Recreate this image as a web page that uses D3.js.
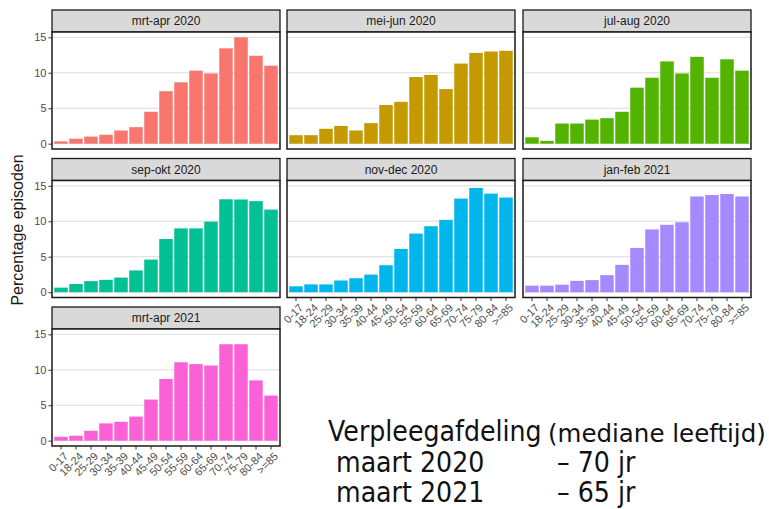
<!DOCTYPE html>
<html><head><meta charset="utf-8">
<script src="https://cdn.jsdelivr.net/npm/d3@7"></script>
<style>
html,body{margin:0;padding:0;background:#fff;}
svg{display:block;}
</style></head>
<body>
<svg id="chart" width="769" height="509"></svg>
<script>
const categories = ["0-17","18-24","25-29","30-34","35-39","40-44","45-49","50-54","55-59","60-64","65-69","70-74","75-79","80-84",">=85"];
const periods = ["mrt-apr 2020","mei-jun 2020","jul-aug 2020","sep-okt 2020","nov-dec 2020","jan-feb 2021","mrt-apr 2021"];
const mrtApr2020 = [0.33,0.7,1.0,1.26,1.86,2.33,4.5,7.4,8.66,10.3,9.9,13.45,15.0,12.4,11.0];
const meiJun2020 = [1.2,1.2,2.1,2.5,1.86,2.9,5.45,5.9,9.4,9.7,7.7,11.3,12.8,13.0,13.1];
const julAug2020 = [0.9,0.4,2.84,2.84,3.4,3.6,4.5,7.9,9.3,11.6,9.9,12.25,9.3,11.9,10.3];
const sepOkt2020 = [0.64,1.15,1.56,1.74,2.06,3.07,4.6,7.5,9.0,9.0,9.95,13.1,13.07,12.84,11.65];
const novDec2020 = [0.83,1.1,1.1,1.65,1.97,2.48,3.8,6.1,8.26,9.3,10.2,13.2,14.7,13.9,13.35];
const janFeb2021 = [0.92,0.92,1.06,1.6,1.7,2.4,3.85,6.24,8.85,9.5,9.86,13.5,13.7,13.85,13.5];
const mrtApr2021 = [0.55,0.7,1.4,2.44,2.67,3.4,5.8,8.7,11.06,10.8,10.6,13.6,13.6,8.5,6.36];
const seriesValues = [mrtApr2020, meiJun2020, julAug2020, sepOkt2020, novDec2020, janFeb2021, mrtApr2021];
const colors = ["#F8766D","#C49A00","#53B400","#00C094","#00B6EB","#A58AFF","#FB61D7"];
const yTicks = [0,5,10,15];
const yTitle = "Percentage episoden";
const noteLines = [["Verpleegafdeling","(mediane leeftijd)"],["maart 2020","\u2013 70 jr"],["maart 2021","\u2013 65 jr"]];

const svg = d3.select("#chart");
const colX = [52, 287, 523];
const rowY = [10, 158.5, 307];
const pw = 228, stripH = 22, ph = 117;
const ncol = 3;

const x = d3.scaleBand().domain(categories).range([0, pw]).paddingInner(0.1).paddingOuter(0.15);
const y = d3.scaleLinear().domain([-0.75, 15.75]).range([ph, 0]);

const font = "'Liberation Sans', Arial, Helvetica, sans-serif";

periods.forEach((p, i) => {
  const r = Math.floor(i / ncol), c = i % ncol;
  const g = svg.append("g").attr("transform", `translate(${colX[c]},${rowY[r]})`);
  g.append("rect").attr("x",0).attr("y",0).attr("width",pw).attr("height",stripH)
    .attr("fill","#d9d9d9").attr("stroke","#1a1a1a").attr("stroke-width",1.3);
  g.append("text").attr("x",pw/2).attr("y",stripH/2+4.3).attr("text-anchor","middle")
    .attr("font-family",font).attr("font-size",12).attr("fill","#1a1a1a").text(p);
  const pg = g.append("g").attr("transform",`translate(0,${stripH})`);
  pg.append("rect").attr("width",pw).attr("height",ph).attr("fill","#fff");
  pg.selectAll("line.grid").data(yTicks).join("line")
    .attr("x1",0).attr("x2",pw).attr("y1",d=>y(d)).attr("y2",d=>y(d))
    .attr("stroke","#dcdcdc").attr("stroke-width",1);
  pg.selectAll("rect.bar").data(seriesValues[i]).join("rect").attr("class","bar")
    .attr("x",(d,k)=>x(categories[k])).attr("width",x.bandwidth())
    .attr("y",d=>y(d)).attr("height",d=>y(0)-y(d)).attr("fill",colors[i]);
  pg.append("rect").attr("width",pw).attr("height",ph).attr("fill","none")
    .attr("stroke","#1a1a1a").attr("stroke-width",1.5);
  if (c === 0) {
    const ya = pg.append("g").call(d3.axisLeft(y).tickValues(yTicks).tickSize(3.5).tickPadding(2));
    ya.select(".domain").remove();
    ya.selectAll("line").attr("stroke","#333");
    ya.selectAll("text").attr("font-family",font).attr("font-size",11).attr("fill","#4d4d4d");
  }
  const isBottom = (i + ncol >= periods.length);
  if (isBottom) {
    const xa = pg.append("g").attr("transform",`translate(0,${ph})`)
      .call(d3.axisBottom(x).tickSize(3.5).tickPadding(2));
    xa.select(".domain").remove();
    xa.selectAll("line").attr("stroke","#333");
    xa.selectAll("text").attr("font-family",font).attr("font-size",11).attr("fill","#4d4d4d")
      .attr("text-anchor","end").attr("dy",null)
      .attr("transform","translate(4,7) rotate(-45)");
  }
});

svg.append("text").attr("transform","translate(23,230) rotate(-90)")
  .attr("text-anchor","middle").attr("font-family",font).attr("font-size",16)
  .attr("fill","#1a1a1a").text(yTitle);

const nf = "'DejaVu Sans', Verdana, sans-serif";
const note = svg.append("g");
const baseY = [441, 472, 502];
const leftX = [328, 336, 336];
const rightX = [548, 557, 557];
noteLines.forEach((ln, k) => {
  note.append("text").attr("transform",`translate(${leftX[k]},${baseY[k]}) scale(0.92,1)`)
    .attr("font-family",nf).attr("font-size",27.5).attr("fill","#111").text(ln[0]);
  if (k === 0) {
    note.append("text").attr("transform",`translate(${rightX[k]},${baseY[k]+1})`)
      .attr("font-family",nf).attr("font-size",24.5).attr("fill","#111").text(ln[1]);
  } else {
    note.append("text").attr("transform",`translate(${rightX[k]},${baseY[k]}) scale(0.92,1)`)
      .attr("font-family",nf).attr("font-size",27.5).attr("fill","#111").text(ln[1]);
  }
});
</script>
</body></html>
